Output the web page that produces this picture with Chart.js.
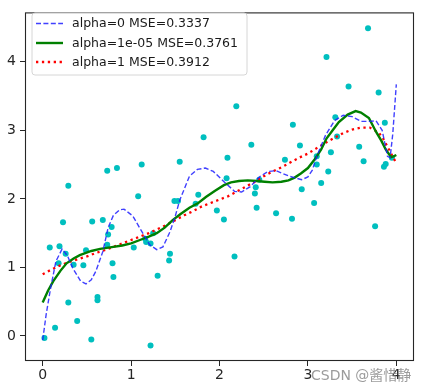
<!DOCTYPE html>
<html>
<head>
<meta charset="utf-8">
<script src="https://cdn.jsdelivr.net/npm/chart.js@4.4.1/dist/chart.umd.min.js"></script>
<style>
  html, body { margin: 0; padding: 0; background: #fff; }
  #wrap { width: 426px; height: 390px; }
</style>
</head>
<body>
<div id="wrap"><canvas id="chart" width="426" height="390"></canvas></div>
<script>
// scatter samples
const pointsX = [0.02, 0.08, 0.14, 0.18, 0.19, 0.23, 0.26, 0.29, 0.29, 0.35, 0.39, 0.46, 0.49, 0.55, 0.56, 0.62, 0.62, 0.68, 0.73, 0.73,
  0.74, 0.78, 0.79, 0.80, 0.84, 1.03, 1.08, 1.12, 1.16, 1.17, 1.22, 1.22, 1.25, 1.30, 1.43, 1.44, 1.49, 1.53, 1.55, 1.73,
  1.76, 1.82, 1.97, 2.05, 2.08, 2.09, 2.17, 2.19, 2.36, 2.40, 2.41, 2.42, 2.45, 2.64, 2.74, 2.82, 2.83, 2.91, 2.93, 3.07,
  3.10, 3.10, 3.15, 3.21, 3.23, 3.26, 3.31, 3.33, 3.46, 3.58, 3.63, 3.68, 3.76, 3.80, 3.86, 3.87, 3.88, 3.95];
const pointsY = [-0.03, 1.29, 0.12, 1.06, 1.31, 1.66, 1.20, 0.49, 2.19, 1.04, 0.22, 1.03, 1.25, -0.05, 1.67, 0.57, 0.52, 1.69, 1.33, 2.41,
  1.48, 1.59, 1.06, 0.86, 2.45, 1.29, 2.04, 2.50, 1.42, 1.37, 1.35, -0.14, 1.50, 0.88, 1.10, 1.20, 1.97, 1.97, 2.54, 1.93,
  2.06, 2.90, 1.83, 1.70, 2.30, 2.60, 1.16, 3.35, 2.79, 2.08, 2.17, 1.87, 2.28, 1.79, 2.57, 1.71, 3.08, 2.78, 2.14, 1.94,
  2.62, 2.50, 2.23, 4.07, 2.40, 2.68, 3.19, 2.91, 3.64, 2.76, 2.55, 4.49, 1.60, 3.55, 2.47, 3.11, 2.51, 2.60];

// alpha=0 fit
const fit0X = [0.00, 0.04, 0.09, 0.15, 0.22, 0.28, 0.34, 0.43, 0.49, 0.55, 0.60, 0.68, 0.74, 0.80, 0.87, 0.92, 1.02, 1.10, 1.21, 1.29,
  1.36, 1.44, 1.50, 1.55, 1.66, 1.75, 1.84, 1.93, 2.06, 2.17, 2.25, 2.35, 2.45, 2.55, 2.64, 2.79, 2.93, 3.00, 3.05, 3.10,
  3.20, 3.30, 3.40, 3.50, 3.60, 3.70, 3.77, 3.84, 3.90, 3.93, 3.96, 4.00];
const fit0Y = [-0.06, 0.32, 0.70, 1.09, 1.27, 1.17, 0.99, 0.80, 0.76, 0.82, 0.94, 1.23, 1.58, 1.76, 1.84, 1.85, 1.75, 1.57, 1.33, 1.26,
  1.30, 1.52, 1.75, 1.98, 2.33, 2.43, 2.45, 2.40, 2.24, 2.11, 2.10, 2.18, 2.32, 2.40, 2.41, 2.33, 2.28, 2.32, 2.42, 2.62,
  2.93, 3.14, 3.22, 3.20, 3.13, 3.13, 3.14, 3.00, 2.62, 2.60, 2.95, 3.67];

// alpha=1e-05 fit
const fit1X = [0.00, 0.06, 0.12, 0.20, 0.27, 0.35, 0.42, 0.55, 0.65, 0.80, 0.90, 1.00, 1.10, 1.20, 1.29, 1.38, 1.47, 1.56, 1.66, 1.76,
  1.85, 1.95, 2.05, 2.13, 2.22, 2.32, 2.42, 2.51, 2.60, 2.70, 2.78, 2.85, 2.92, 3.00, 3.08, 3.15, 3.21, 3.28, 3.35, 3.45,
  3.54, 3.60, 3.69, 3.77, 3.83, 3.88, 3.94, 3.97, 4.00];
const fit1Y = [0.49, 0.66, 0.80, 0.95, 1.06, 1.13, 1.18, 1.24, 1.27, 1.30, 1.32, 1.35, 1.40, 1.45, 1.50, 1.58, 1.69, 1.78, 1.87, 1.94,
  2.03, 2.12, 2.20, 2.24, 2.26, 2.27, 2.26, 2.25, 2.24, 2.25, 2.27, 2.31, 2.37, 2.45, 2.58, 2.72, 2.88, 3.00, 3.12, 3.23,
  3.28, 3.26, 3.18, 2.98, 2.85, 2.72, 2.61, 2.62, 2.64];

// alpha=1 fit
const fit2X = [0.0, 0.1, 0.2, 0.3, 0.4, 0.5, 0.6, 0.7, 0.8, 0.9, 1.0, 1.1, 1.2, 1.3, 1.4, 1.5, 1.6, 1.7, 1.8, 1.9,
  2.0, 2.1, 2.2, 2.3, 2.4, 2.5, 2.6, 2.7, 2.8, 2.9, 3.0, 3.1, 3.2, 3.3, 3.4, 3.5, 3.6, 3.7, 3.8, 3.85, 3.9, 3.95, 4.0];
const fit2Y = [0.90, 0.97, 1.03, 1.08, 1.12, 1.16, 1.21, 1.25, 1.30, 1.35, 1.40, 1.45, 1.50, 1.56, 1.62, 1.69, 1.76, 1.82, 1.89, 1.94,
  1.99, 2.04, 2.11, 2.18, 2.25, 2.33, 2.40, 2.46, 2.53, 2.60, 2.66, 2.74, 2.82, 2.89, 2.96, 3.01, 3.04, 3.04, 2.97, 2.88, 2.76, 2.64, 2.52];

const seriesLabels = ['alpha=0 MSE=0.3337', 'alpha=1e-05 MSE=0.3761', 'alpha=1 MSE=0.3912'];
const tickValues = [0, 1, 2, 3, 4];

const toXY = (xs, ys) => xs.map((x, i) => ({ x: x, y: ys[i] }));

// frame around the plot + legend box + watermark
const framePlugin = {
  id: 'frame',
  afterDraw(chart) {
    const ctx = chart.ctx;
    const a = chart.chartArea;
    ctx.save();
    ctx.strokeStyle = '#262626';
    ctx.lineWidth = 1.1;
    ctx.strokeRect(a.left + 0.5, a.top + 0.5, a.right - a.left - 1, a.bottom - a.top - 1);

    // legend
    const bx = 32, by = 13, bw = 215, bh = 62, r = 3;
    ctx.beginPath();
    ctx.moveTo(bx + r, by);
    ctx.arcTo(bx + bw, by, bx + bw, by + bh, r);
    ctx.arcTo(bx + bw, by + bh, bx, by + bh, r);
    ctx.arcTo(bx, by + bh, bx, by, r);
    ctx.arcTo(bx, by, bx + bw, by, r);
    ctx.closePath();
    ctx.fillStyle = 'rgba(255,255,255,0.8)';
    ctx.fill();
    ctx.strokeStyle = '#d6d6d6';
    ctx.lineWidth = 1;
    ctx.stroke();

    const rows = [23.5, 43, 62];
    ctx.font = '12.5px "DejaVu Sans"';
    ctx.textBaseline = 'middle';
    for (let i = 0; i < 3; i++) {
      const ds = chart.data.datasets[i];
      ctx.beginPath();
      ctx.strokeStyle = ds.borderColor;
      ctx.lineWidth = ds.borderWidth;
      ctx.setLineDash(ds.borderDash || []);
      ctx.moveTo(36, rows[i]);
      ctx.lineTo(63, rows[i]);
      ctx.stroke();
      ctx.setLineDash([]);
      ctx.fillStyle = '#1a1a1a';
      ctx.fillText(seriesLabels[i], 72, rows[i] + 0.5);
    }

    // watermark
    ctx.font = '14px "DejaVu Sans", "Noto Sans CJK SC"';
    ctx.fillStyle = 'rgba(130,130,130,0.8)';
    ctx.textBaseline = 'middle';
    ctx.fillText('CSDN @酱惜静', 311, 376);
    ctx.restore();
  }
};

new Chart(document.getElementById('chart').getContext('2d'), {
  type: 'scatter',
  data: {
    datasets: [
      {
        label: seriesLabels[0],
        data: toXY(fit0X, fit0Y),
        showLine: true,
        borderColor: 'rgba(30,30,255,0.85)',
        borderWidth: 1.4,
        borderDash: [5, 2.4],
        pointRadius: 0,
        tension: 0,
        order: 1
      },
      {
        label: seriesLabels[1],
        data: toXY(fit1X, fit1Y),
        showLine: true,
        borderColor: '#008000',
        borderWidth: 2.4,
        pointRadius: 0,
        tension: 0,
        order: 2
      },
      {
        label: seriesLabels[2],
        data: toXY(fit2X, fit2Y),
        showLine: true,
        borderColor: '#ff0000',
        borderWidth: 2.3,
        borderDash: [2.3, 3.6],
        pointRadius: 0,
        tension: 0,
        order: 3
      },
      {
        label: 'samples',
        data: toXY(pointsX, pointsY),
        backgroundColor: '#00bfbf',
        borderWidth: 0,
        pointRadius: 3,
        order: 4
      }
    ]
  },
  options: {
    responsive: false,
    animation: false,
    layout: { padding: { top: 7, right: 12, left: 0, bottom: 0 } },
    plugins: {
      legend: { display: false },
      tooltip: { enabled: false }
    },
    scales: {
      x: {
        type: 'linear',
        min: -0.2,
        max: 4.2,
        afterBuildTicks: scale => { scale.ticks = tickValues.map(v => ({ value: v })); },
        afterFit: scale => { scale.height = 29; },
        grid: { drawOnChartArea: false, drawTicks: true, tickLength: 5, color: '#262626', lineWidth: 1 },
        border: { display: false },
        ticks: {
          color: '#262626',
          padding: 1,
          maxRotation: 0,
          font: { family: 'DejaVu Sans', size: 14 },
          callback: v => String(v)
        }
      },
      y: {
        type: 'linear',
        min: -0.365,
        max: 4.72,
        afterBuildTicks: scale => { scale.ticks = tickValues.map(v => ({ value: v })); },
        afterFit: scale => { scale.width = 25; },
        grid: { drawOnChartArea: false, drawTicks: true, tickLength: 5, color: '#262626', lineWidth: 1 },
        border: { display: false },
        ticks: {
          color: '#262626',
          padding: 4,
          font: { family: 'DejaVu Sans', size: 14 },
          callback: v => String(v)
        }
      }
    }
  },
  plugins: [framePlugin]
});
</script>
</body>
</html>
